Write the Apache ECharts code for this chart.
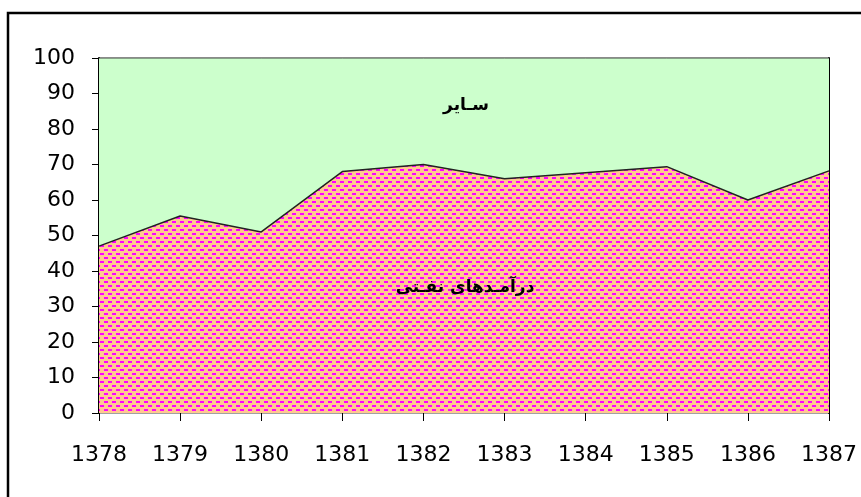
<!DOCTYPE html>
<html>
<head>
<meta charset="utf-8">
<script src="https://cdn.jsdelivr.net/npm/echarts@6/dist/echarts.min.js"></script>
<style>
  html, body { margin: 0; padding: 0; background: #fff; }
  #chart { width: 861px; height: 497px; }
</style>
</head>
<body>
<div id="chart"></div>
<script>
// سال‌ها
var years = ["1378", "1379", "1380", "1381", "1382", "1383", "1384", "1385", "1386", "1387"];
// درآمدهای نفتی (درصد)
var oilShare = [47, 55.5, 51, 68, 70, 66, 67.7, 69.4, 60, 68.2];
// سایر (درصد)
var otherShare = [53, 44.5, 49, 32, 30, 34, 32.3, 30.6, 40, 31.8];
var yTicks = { min: 0, max: 100, step: 10 };

// pattern for the oil area (peach + magenta dashes)
function makePattern() {
  var c = document.createElement("canvas");
  c.width = 8;
  c.height = 8;
  var ctx = c.getContext("2d");
  ctx.fillStyle = "#ffc890";
  ctx.fillRect(0, 0, 8, 8);
  ctx.fillStyle = "#ff00ff";
  ctx.fillRect(0, 1, 4, 2);
  ctx.fillRect(4, 5, 4, 2);
  return c;
}

var myChart = echarts.init(document.getElementById("chart"));
var font = "DejaVu Sans";

myChart.setOption({
  animation: false,
  grid: {
    left: 99,
    right: 32,
    top: 58,
    bottom: 84,
    show: true,
    borderColor: "#444",
    borderWidth: 1
  },
  xAxis: {
    type: "category",
    data: years,
    boundaryGap: false,
    axisLine: { show: false },
    axisTick: { show: true, length: 8, lineStyle: { color: "#000", width: 1 } },
    axisLabel: {
      margin: 31,
      color: "#000",
      fontFamily: font,
      fontSize: 22
    },
    splitLine: { show: false }
  },
  yAxis: [
    {
      type: "value",
      min: yTicks.min,
      max: yTicks.max,
      interval: yTicks.step,
      axisLine: { show: true, lineStyle: { color: "#000", width: 2 } },
      axisTick: { show: true, length: 7, lineStyle: { color: "#000", width: 1 } },
      axisLabel: {
        margin: 24,
        color: "#000",
        fontFamily: font,
        fontSize: 22,
        padding: [0, 0, 8, 0]
      },
      splitLine: { show: false }
    },
    {
      type: "value",
      position: "right",
      min: yTicks.min,
      max: yTicks.max,
      interval: yTicks.step,
      axisLine: { show: true, lineStyle: { color: "#000", width: 2 } },
      axisTick: { show: false },
      axisLabel: { show: false },
      splitLine: { show: false }
    }
  ],
  series: [
    {
      name: "درآمدهای نفتی",
      type: "line",
      stack: "total",
      data: oilShare,
      symbol: "none",
      lineStyle: { color: "#222", width: 1.5 },
      areaStyle: {
        color: { image: makePattern(), repeat: "repeat" },
        opacity: 1
      },
      z: 3
    },
    {
      name: "سایر",
      type: "line",
      stack: "total",
      data: otherShare,
      symbol: "none",
      lineStyle: { color: "#444", width: 1 },
      areaStyle: { color: "#ccffcc", opacity: 1 },
      z: 2
    }
  ],
  graphic: [
    {
      type: "rect",
      shape: { x: 8, y: 13, width: 900, height: 520 },
      style: { fill: "none", stroke: "#000", lineWidth: 2.5 },
      z: 10
    },
    {
      type: "text",
      x: 466,
      y: 106,
      style: {
        text: "سـایر",
        fill: "#000",
        font: "bold 17px 'DejaVu Sans'",
        align: "center",
        verticalAlign: "middle"
      },
      z: 10
    },
    {
      type: "text",
      x: 465,
      y: 288,
      style: {
        text: "درآمـدهای نفـتی",
        fill: "#000",
        font: "bold 17px 'DejaVu Sans'",
        align: "center",
        verticalAlign: "middle"
      },
      z: 10
    }
  ]
});
</script>
</body>
</html>
